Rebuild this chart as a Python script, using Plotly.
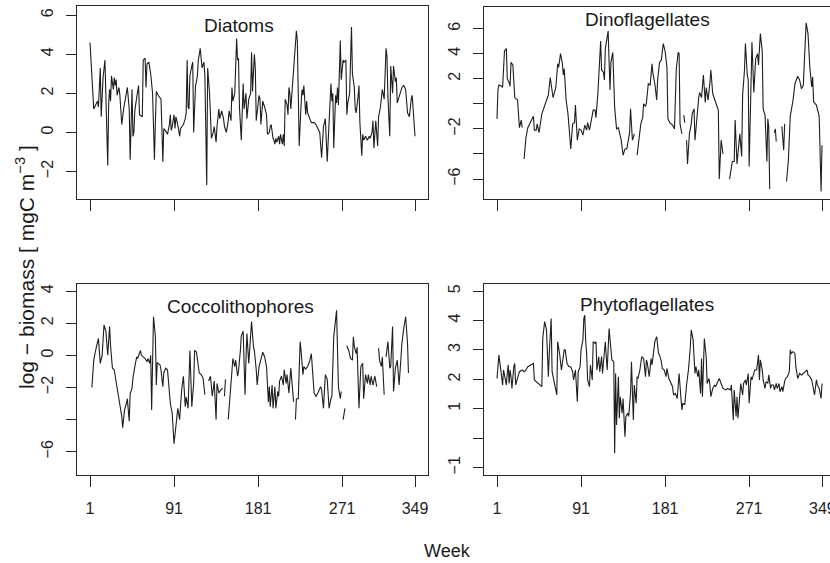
import plotly.graph_objects as go

# ---------------- data ----------------
week_ticks = [1, 91, 181, 271, 349]
week_ticktext = ["1", "91", "181", "271", "349"]

diatoms_week = [1, 3, 5, 7, 9, 10, 11, 12, 13, 15, 17, 18, 20, 21, 22, 23, 24, 26, 27, 28, 29, 30, 32, 33, 35, 37, 39, 41, 43, 44,
                46, 47, 48, 49, 51, 53, 54, 57, 58, 60, 61, 62, 64, 66, 68, 69, 70, 71, 72, 74, 77, 78, 79, 80, 82, 83, 84, 86, 87, 88,
                89, 91, 92, 93, 95, 97, 98, 101, 103, 104, 105, 106, 107, 108, 110, 111, 112, 113, 114, 115, 116, 117, 119, 120, 121, 123, 124, 126, 127, 129,
                131, 133, 134, 136, 137, 139, 140, 142, 144, 145, 147, 149, 150, 152, 153, 154, 156, 158, 159, 160, 161, 163, 165, 166, 167, 168, 169, 171, 173, 174,
                175, 177, 178, 179, 182, 183, 184, 186, 188, 190, 191, 193, 194, 195, 197, 198, 199, 200, 201, 203, 204, 205, 207, 208, 209, 210, 212, 213, 214, 215,
                216, 217, 219, 220, 222, 223, 224, 225, 227, 228, 229, 230, 232, 233, 234, 236, 238, 241, 243, 245, 247, 249, 251, 253, 255, 256, 258, 259, 260, 261,
                262, 264, 265, 266, 267, 269, 270, 272, 273, 275, 276, 277, 279, 281, 282, 284, 285, 286, 288, 289, 290, 292, 293, 294, 296, 298, 300, 301, 303, 304,
                305, 307, 309, 310, 312, 314, 316, 318, 319, 320, 322, 323, 325, 326, 328, 329, 330, 332, 335, 337, 339, 341, 343, 345, 346, 349]
diatoms_val = [4.6, 3.1, 1.2, 1.4, 1.6, 1.3, 2.3, 3.3, 0.8, 2.8, 3.7, 2.0, -1.7, 1.5, 2.2, 1.6, 2.9, 2.2, 2.8, 2.4, 2.7, 1.9, 2.3, 1.9, 0.4, 1.2, 1.8, 2.3, 1.2, -1.4,
               2.2, -0.2, 0.0, 1.1, 1.8, 2.4, 0.9, 0.8, 3.7, 3.8, 2.3, 3.5, 3.6, 3.0, 2.0, 0.0, -1.4, 0.5, 2.1, 1.9, 1.7, 0.2, -1.5, 0.2, 0.1, 0.0, -0.1, 0.4, 0.9, 0.1,
               0.3, 0.9, 0.2, 0.8, 0.4, -0.2, 0.2, 0.4, 0.7, 1.0, 3.7, 1.3, 1.2, 2.9, 3.4, 3.6, 0.0, 1.8, 2.4, 2.6, 2.9, 3.7, 4.3, 3.8, 3.3, 3.6, 2.9, -2.7, 3.3, 2.0,
               -0.3, 0.0, 0.3, -0.5, 0.3, 1.2, 0.7, 1.1, 0.7, 0.3, 0.0, 0.6, 1.1, 0.6, 2.3, 1.6, 2.0, 4.8, 3.7, 3.8, 1.3, -0.4, 2.5, 1.2, 1.7, 2.0, 0.7, 1.7, 2.0, 4.1,
               2.1, 4.0, 3.3, 0.6, 1.9, 1.7, 0.4, 1.6, 1.3, 0.9, -0.1, 0.0, 0.3, 0.4, -0.3, -0.4, -0.6, -0.3, -0.5, -0.2, -0.6, -0.1, -0.6, -0.1, -0.7, 1.7, 1.4, 0.9, 2.3, 2.0,
               1.2, 1.9, 3.0, 4.0, 5.2, 4.7, 2.0, -0.7, 1.4, 2.2, 1.9, 2.4, 0.9, 1.6, 1.0, 0.7, 0.5, 0.5, 0.4, 0.2, 0.0, -1.3, 0.3, 0.7, -1.5, -0.5, 1.8, 2.5, 1.6, 2.0,
               -0.8, 1.9, 1.5, 2.3, 1.4, 4.7, 2.7, 3.7, 3.6, 3.7, 0.9, 1.5, 2.0, 5.4, 3.0, 2.3, 1.2, 1.0, 1.8, 2.4, 0.5, -1.2, -0.1, -0.4, -0.2, -0.4, -0.2, -0.3, 0.0, 0.6,
               -0.8, 0.6, -0.7, 0.8, 1.3, 2.2, 1.7, 4.3, 3.9, 1.8, -0.2, 3.4, 2.0, 3.4, 2.6, 2.8, 1.5, 1.8, 2.3, 2.4, 2.2, 1.0, 0.8, 1.7, 1.9, -0.2]

dino_week = [1, 2, 3, 6, 7, 9, 11, 12, 14, 15, 16, 18, 20, 22, 23, 25, 27, 28, 29, 30, 32, 34, 37, 40, 41, 43, 44, 46, 49, 53,
             56, 58, 59, 61, 64, 66, 67, 69, 71, 72, 73, 75, 77, 80, 82, 84, 85, 87, 89, 91, 93, 95, 97, 98, 100, 102, 104, 106, 107, 109,
             112, 113, 115, 116, 117, 120, 122, 123, 125, 127, 129, 131, 132, 134, 136, 138, 140, 142, 143, 144, 146, 147, 148, 149, 151, 153, 155, 157, 158, 160,
             161, 163, 165, 167, 168, 170, 172, 173, 175, 177, 179, 181, 183, 184, 186, 189, 191, 193, 195, 196, 197, 199, 200, 201, 202, 203, 204, 205, 207, 209,
             210, 212, 213, 215, 217, 218, 220, 222, 224, 225, 227, 229, 230, 232, 234, 236, 238, 239, 241, 243, 244, 250, 253, 255, 256, 258, 259, 261, 263, 264,
             266, 267, 269, 270, 271, 273, 274, 276, 278, 280, 281, 283, 285, 286, 288, 290, 291, 292, 293, 294, 298, 299, 300, 301, 306, 308, 309, 310, 311, 313,
             315, 318, 320, 322, 323, 325, 327, 329, 330, 332, 334, 336, 338, 339, 340, 343, 346, 347, 348, 349]
dino_val = [-1.2, 1.1, 1.5, 1.4, 1.3, 4.2, 4.4, 2.0, 1.7, 1.4, 3.3, 3.1, 0.5, 0.4, 0.3, -1.9, -1.3, -1.9, None, -4.4, -2.7, -1.9, -1.4, -1.0, -2.1, -2.1, -1.6, -2.3, -0.8, 0.0,
            0.7, 2.1, 1.5, 0.5, 1.3, 3.2, 2.9, 4.0, 3.2, 2.3, 2.8, 0.3, -0.8, -3.6, -1.6, -1.5, -0.1, -2.9, -2.0, -2.1, -2.5, -1.7, -2.1, -1.5, -2.1, -1.3, -0.5, -0.5, -1.1, 0.8,
            5.0, 2.7, 2.5, 1.9, 4.4, 5.8, 1.1, 3.3, 4.1, -0.3, -2.0, -1.9, -2.3, -2.9, -4.1, -3.6, -3.6, -2.9, -2.3, -0.4, -2.9, -2.7, -2.4, None, -4.1, -2.9, -1.6, -1.1, 0.0, -0.2,
            0.1, 1.6, 1.5, 3.2, 2.4, 1.6, 0.3, 1.9, 3.3, 3.5, 4.8, 4.2, 2.9, -1.2, -1.5, -1.7, -2.0, 2.8, 4.1, 4.0, -1.6, -2.4, None, -0.9, -1.5, None, -2.9, -4.8, -2.4, -1.6,
            -0.8, -0.4, -2.9, -0.9, 0.5, 0.9, 0.5, 2.3, 0.1, 1.3, 0.3, 1.7, 2.7, 0.8, 0.4, -0.1, -0.5, -6.0, -2.9, -4.0, None, -6.0, -4.6, -4.6, -1.3, -4.8, -4.1, -2.4, -4.2, 0.7,
            2.7, 4.8, 2.3, 1.9, -5.0, 2.9, 4.9, 0.9, 3.6, 4.0, 3.1, 5.6, 4.2, -0.4, -0.9, -4.6, -1.2, -1.9, -6.8, None, -2.3, -2.0, -3.0, None, -1.8, -3.7, -1.6, None, -6.2, -4.5,
            -1.0, 0.3, 1.6, 2.0, 2.2, 1.9, 1.2, 1.5, 3.1, 6.45, 5.6, 2.9, 1.35, 2.15, 0.16, -0.1, -1.0, -3.2, -7.0, -3.3]

cocco_week = [3, 5, 7, 10, 11, 12, 14, 16, 18, 20, 22, 23, 25, 27, 28, 30, 32, 35, 36, 38, 40, 41, 43, 44, 46, 47, 49, 51, 52, 55,
              56, 58, 60, 62, 63, 65, 66, 67, 69, 71, 72, 73, 76, 77, 79, 80, 82, 84, 86, 87, 89, 91, 93, 95, 97, 99, 101, 103, 104, 106,
              108, 109, 110, 112, 113, 115, 117, 118, 120, 122, 124, 125, 128, 130, 132, 134, 136, 137, 139, 141, 143, 144, 145, 146, 147, 149, 152, 154, 156, 157,
              159, 160, 162, 163, 165, 167, 168, 169, 171, 172, 174, 176, 177, 179, 180, 182, 184, 186, 188, 190, 192, 193, 194, 196, 197, 199, 200, 202, 203, 204,
              206, 208, 209, 211, 212, 214, 216, 218, 219, 220, 221, 222, 224, 226, 227, 229, 230, 232, 234, 236, 238, 239, 241, 243, 245, 248, 249, 251, 253, 255,
              257, 259, 260, 262, 265, 267, 269, 270, 271, 272, 274, 275, 276, 278, 280, 282, 283, 284, 286, 287, 289, 291, 293, 294, 296, 298, 299, 301, 302, 304,
              306, 308, 309, 310, 311, 313, 314, 316, 317, 318, 320, 322, 323, 325, 326, 328, 330, 332, 334, 335, 337, 339, 341, 342]
cocco_val = [-2.0, -0.3, 0.3, 1.05, 0.3, -0.5, 0.0, 1.9, 1.5, 0.0, 1.8, 0.6, -0.8, -0.9, -1.3, -1.95, -2.7, -3.8, -4.5, -3.4, -3.0, -2.7, -4.1, -2.4, -2.05, -1.4, -0.7, -0.1, -0.2, 0.3,
             0.0, -0.1, -0.2, -0.4, -0.2, -0.5, 0.0, -3.4, 2.4, 1.2, -1.85, -0.45, -0.6, -0.9, -1.95, -1.1, -0.8, -0.9, -2.05, -3.0, -3.6, -5.5, -4.4, -3.3, -4.0, -2.25, -1.3, -3.2, -2.6, -3.3,
             0.3, -1.95, -3.2, -1.75, 0.3, 0.2, -0.9, -1.1, -1.2, -1.4, -2.45, None, -1.6, -1.3, -2.55, -1.6, -4.0, -1.75, -2.35, -2.15, -2.05, None, -2.55, -1.5, None, -4.0, -1.5, -0.2, -0.7, -0.3,
             -1.3, -1.0, 0.3, 1.2, 1.5, -2.45, -0.3, 1.35, -0.5, 0.3, 2.1, 0.55, 0.3, -0.9, -1.85, -0.7, -0.2, 0.2, -0.1, -0.7, -2.9, -1.95, -3.2, -1.85, -3.3, -1.95, -3.3, -2.25, -2.55, -1.6,
             -1.3, -1.85, -0.9, -1.75, -1.2, -2.35, -0.8, -2.25, -2.9, None, -4.0, -2.7, -2.7, 0.85, 0.3, -1.2, -0.7, -0.85, -0.7, -0.4, 0.1, -0.7, -2.35, -2.55, -2.35, -1.95, -2.15, -3.3, -1.2, -1.5,
             -3.3, -2.7, -2.55, 1.15, 2.8, -1.95, -2.7, -2.25, None, -4.0, -3.3, None, 0.6, 0.3, -0.2, -0.3, 1.15, 0.55, 0.1, 0.5, -3.3, -0.7, -0.5, -2.7, -1.2, -1.75, -1.2, -1.85, -1.3, -1.85,
             -1.3, -1.95, None, 0.45, -0.3, -0.7, -0.1, -2.45, None, -0.1, 0.85, -0.8, -0.7, 1.8, -2.25, -0.8, -0.3, -1.85, -0.1, 0.75, 1.7, 2.4, 0.75, -1.1]

phyto_week = [1, 3, 5, 7, 8, 9, 11, 12, 13, 14, 15, 16, 17, 19, 20, 21, 23, 25, 28, 30, 32, 34, 37, 40, 41, 43, 45, 47, 49, 50,
              52, 54, 56, 57, 59, 60, 61, 63, 65, 66, 67, 68, 70, 72, 73, 74, 76, 78, 80, 82, 83, 85, 87, 88, 90, 91, 93, 94, 95, 96,
              97, 98, 100, 101, 103, 104, 106, 107, 108, 110, 111, 113, 114, 116, 117, 118, 119, 121, 122, 124, 126, 127, 128, 129, 131, 132, 133, 135, 136, 138,
              139, 141, 142, 144, 145, 147, 148, 150, 151, 152, 154, 156, 158, 160, 161, 162, 164, 166, 167, 169, 170, 172, 174, 175, 177, 178, 180, 182, 183, 185,
              187, 189, 190, 192, 194, 196, 198, 199, 200, 202, 204, 206, 208, 209, 211, 213, 214, 216, 217, 219, 220, 221, 223, 225, 226, 228, 229, 230, 232, 234,
              235, 237, 239, 241, 243, 246, 248, 251, 252, 254, 255, 257, 258, 259, 261, 262, 264, 265, 267, 268, 270, 271, 273, 274, 276, 277, 279, 281, 282, 283,
              285, 286, 288, 289, 291, 292, 294, 295, 297, 298, 300, 301, 303, 304, 306, 307, 309, 310, 312, 314, 315, 316, 318, 320, 321, 323, 325, 327, 329, 331,
              333, 334, 336, 338, 339, 341, 343, 344, 346, 348, 349]
phyto_val = [2.03, 2.83, 2.32, 1.81, 2.32, 2.09, 1.81, 2.2, 2.49, 1.86, 2.32, 2.09, 1.69, 2.43, 2.54, 1.81, 2.09, 2.26, 2.32, 2.26, 2.32, 2.43, 2.49, 2.54, 1.98, 1.92, 1.86, 1.81, 1.75, 3.39,
             3.96, 3.68, 2.09, 2.88, 4.07, 2.26, 2.09, 1.86, 1.47, 3.28, 3.11, 2.88, 2.32, 2.83, 3.0, 3.0, 2.54, 2.43, 2.43, 2.26, 1.98, 2.32, 1.24, 2.26, 2.43, 3.0, 3.34, 4.07, 4.18, 3.28,
             2.88, 1.98, 1.75, 2.49, 1.98, 3.28, 3.22, 3.28, 2.32, 2.77, 2.26, 2.77, 2.2, 2.94, 3.28, 2.77, 2.32, 3.73, 3.45, 2.66, 2.6, -0.51, 2.2, 0.45, 2.09, 0.68, 1.41, 0.85, 1.35, 0.05,
             0.74, 0.85, 0.74, 1.52, 2.6, 0.62, 1.81, 1.19, 2.09, 2.03, 2.32, 2.77, 2.71, 2.09, 2.66, 2.54, 2.09, 2.71, 2.49, 2.94, 3.28, 3.45, 2.88, 2.83, 2.6, 2.37, 2.32, 2.09, 2.37, 2.03,
             1.86, 1.75, 1.47, 1.52, 1.35, 2.2, 1.35, 0.96, 1.19, 1.13, 1.81, 2.32, 3.11, 3.68, 3.34, 2.2, 2.43, 2.09, 2.32, 1.52, 2.71, 1.41, 3.39, 2.77, 1.86, 2.03, 1.81, 1.41, 1.69, 1.81,
             1.75, 1.92, 2.03, 1.86, 1.69, 1.64, 1.69, 1.64, 1.81, 0.62, 1.64, 0.74, 1.41, 0.68, 1.47, 1.86, 1.47, 1.86, 1.98, 1.81, 2.2, 1.19, 2.09, 1.98, 2.2, 2.32, 2.32, 2.83, 1.98, 2.66,
             2.32, 1.98, 1.69, 1.92, 1.86, 2.15, 1.69, 1.81, 1.81, 1.64, 1.86, 1.69, 1.86, 1.58, 1.75, 1.58, 1.92, 2.03, 2.09, 2.26, 3.0, 2.88, 2.94, 2.88, 2.43, 2.03, 2.2, 2.15, 2.2, 2.26,
             2.32, 2.15, 2.09, 1.98, 1.81, 1.47, 1.98, 1.81, 1.69, 1.35, 1.86]

# ---------------- layout helpers ----------------
W, H = 830, 563
FONT = "Liberation Sans, Arial, sans-serif"
INK = "#262626"
TXT = "#1e1e1e"

panels = [
    dict(title="Diatoms", weeks=diatoms_week, vals=diatoms_val,
         xpx=(77, 428), ypx=(6, 199), yrange=(-3.41, 6.47),
         yt=[-2, 0, 2, 4, 6], ytt=["−2", "0", "2", "4", "6"],
         xlabels=False, right=True, tpos=(239, 25)),
    dict(title="Dinoflagellates", weeks=dino_week, vals=dino_val,
         xpx=(484, 830), ypx=(7, 199), yrange=(-7.59, 7.72),
         yt=[-6, -4, -2, 0, 2, 4, 6], ytt=["−6", "", "−2", "", "2", "4", "6"],
         xlabels=False, right=False, tpos=(647, 20)),
    dict(title="Coccolithophores", weeks=cocco_week, vals=cocco_val,
         xpx=(77, 428), ypx=(284, 475), yrange=(-7.45, 4.44),
         yt=[-6, -4, -2, 0, 2, 4], ytt=["−6", "", "−2", "0", "2", "4"],
         xlabels=True, right=True, tpos=(240, 306)),
    dict(title="Phytoflagellates", weeks=phyto_week, vals=phyto_val,
         xpx=(484, 830), ypx=(284, 475), yrange=(-1.25, 5.24),
         yt=[-1, 0, 1, 2, 3, 4, 5], ytt=["−1", "", "1", "2", "3", "4", "5"],
         xlabels=True, right=False, tpos=(647, 304)),
]

# R-style x range: 1..349 extended by 4 %
x_lo = 1 - 0.04 * 348
x_hi_full = 349 + 0.04 * 348
px_per_week = (428 - 77) / (x_hi_full - x_lo)

fig = go.Figure()
layout = dict(width=W, height=H, margin=dict(l=0, r=0, t=0, b=0),
              paper_bgcolor="white", plot_bgcolor="white", showlegend=False,
              font=dict(family=FONT, color=TXT, size=16))
annotations = []

for i, p in enumerate(panels, start=1):
    xs = "" if i == 1 else str(i)
    fig.add_trace(go.Scatter(x=p["weeks"], y=p["vals"], mode="lines",
                             line=dict(color="#1e1e1e", width=1.1),
                             connectgaps=False, xaxis="x" + xs, yaxis="y" + xs,
                             hoverinfo="skip"))
    x0, x1 = p["xpx"]
    y0, y1 = p["ypx"]
    xr = [x_lo, x_lo + (x1 - x0) / px_per_week]
    cut = (x_lo + (x1 - x0) / px_per_week) < x_hi_full  # right edge of panel is cut off
    ttext = [t if not (cut and v == week_ticks[-1]) else "" for v, t in zip(week_ticks, week_ticktext)]
    layout["xaxis" + xs] = dict(
        domain=[x0 / W, x1 / W], range=xr, anchor="y" + xs,
        tickvals=week_ticks, ticktext=ttext, showticklabels=p["xlabels"],
        ticks="outside", ticklen=11, tickwidth=1.3, tickcolor=INK,
        showline=True, linecolor=INK, linewidth=1.3, mirror=True,
        showgrid=False, zeroline=False, ticklabelstandoff=8,
        tickfont=dict(family=FONT, size=16, color=TXT))
    layout["yaxis" + xs] = dict(
        domain=[1 - y1 / H, 1 - y0 / H], range=list(p["yrange"]), anchor="x" + xs,
        tickvals=p["yt"], ticktext=p["ytt"], tickangle=-90,
        ticks="outside", ticklen=10, tickwidth=1.3, tickcolor=INK,
        showline=True, linecolor=INK, linewidth=1.3, mirror=p["right"],
        showgrid=False, zeroline=False, ticklabelstandoff=6,
        tickfont=dict(family=FONT, size=16, color=TXT))
    if p["xlabels"] and cut:
        # last tick label runs past the page edge and is cropped, as in the reference
        annotations.append(dict(text=week_ticktext[-1], x=week_ticks[-1], xref="x" + xs,
                                y=1 - 508 / H, yref="paper", showarrow=False,
                                xanchor="center", yanchor="middle",
                                font=dict(family=FONT, size=16, color=TXT)))
    annotations.append(dict(text=p["title"], x=p["tpos"][0] / W, y=1 - p["tpos"][1] / H,
                            xref="paper", yref="paper", showarrow=False,
                            xanchor="center", yanchor="middle",
                            font=dict(family=FONT, size=19, color="#1a1a1a")))

annotations.append(dict(text="Week", x=447 / W, y=1 - 551 / H, xref="paper", yref="paper",
                        showarrow=False, xanchor="center", yanchor="middle",
                        font=dict(family=FONT, size=18, color="#1a1a1a")))
annotations.append(dict(text="log\u00a0\u2212\u00a0biomass\u00a0[\u00a0mgC\u00a0m<sup>\u22123</sup>\u00a0]",
                        x=25 / W, y=1 - 267 / H, xref="paper", yref="paper",
                        showarrow=False, xanchor="center", yanchor="middle", textangle=-90,
                        font=dict(family=FONT, size=21, color="#1a1a1a")))
layout["annotations"] = annotations
fig.update_layout(**layout)
fig.write_html("out.html")
